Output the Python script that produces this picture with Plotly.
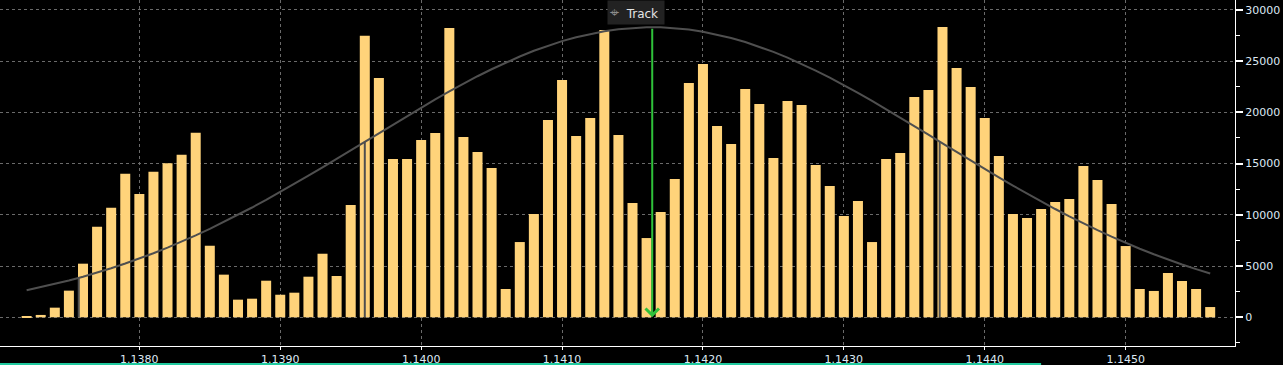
import plotly.graph_objects as go

# ---------------- data ----------------
price_levels = [
    1.1372, 1.1373, 1.1374, 1.1375, 1.1376, 1.1377, 1.1378, 1.1379, 1.1380, 1.1381,
    1.1382, 1.1383, 1.1384, 1.1385, 1.1386, 1.1387, 1.1388, 1.1389, 1.1390, 1.1391,
    1.1392, 1.1393, 1.1394, 1.1395, 1.1396, 1.1397, 1.1398, 1.1399, 1.1400, 1.1401,
    1.1402, 1.1403, 1.1404, 1.1405, 1.1406, 1.1407, 1.1408, 1.1409, 1.1410, 1.1411,
    1.1412, 1.1413, 1.1414, 1.1415, 1.1416, 1.1417, 1.1418, 1.1419, 1.1420, 1.1421,
    1.1422, 1.1423, 1.1424, 1.1425, 1.1426, 1.1427, 1.1428, 1.1429, 1.1430, 1.1431,
    1.1432, 1.1433, 1.1434, 1.1435, 1.1436, 1.1437, 1.1438, 1.1439, 1.1440, 1.1441,
    1.1442, 1.1443, 1.1444, 1.1445, 1.1446, 1.1447, 1.1448, 1.1449, 1.1450, 1.1451,
    1.1452, 1.1453, 1.1454, 1.1455, 1.1456,
]

volumes = [
    100, 230, 940, 2600, 5230, 8840, 10690, 14010, 12030, 14200,
    15020, 15860, 18000, 6980, 4160, 1720, 1815, 3570, 2200, 2400,
    3960, 6200, 4030, 10950, 27470, 23340, 15440, 15440, 17290, 17980,
    28220, 17580, 16120, 14560, 2760, 7340, 10080, 19240, 23140, 17680,
    19440, 28020, 17780, 11150, 7730, 10270, 13490, 22850, 24700, 18660,
    16900, 22270, 20800, 15540, 21100, 20710, 14850, 12810, 9880, 11340,
    7340, 15440, 16020, 21490, 22170, 28310, 24310, 22460, 19440, 15730,
    10080, 9690, 10570, 11250, 11540, 14760, 13390, 11050, 6950, 2760,
    2570, 4320, 3540, 2760, 1000,
]

# fitted distribution curve, read at each price level
fit_curve = [
    2631, 2926, 3244, 3589, 3959, 4359, 4786, 5245, 5733, 6250,
    6800, 7377, 7986, 8625, 9293, 9987, 10709, 11453, 12220, 13007,
    13810, 14630, 15461, 16298, 17139, 17982, 18820, 19649, 20466, 21265,
    22043, 22793, 23514, 24197, 24842, 25442, 25994, 26492, 26936, 27324,
    27649, 27910, 28105, 28233, 28295, 28288, 28213, 28071, 27861, 27587,
    27250, 26854, 26398, 25889, 25326, 24717, 24063, 23373, 22646, 21890,
    21106, 20302, 19482, 18653, 17815, 16972, 16128, 15293, 14464, 13649,
    12848, 12064, 11300, 10562, 9846, 9158, 8496, 7865, 7262, 6687,
    6147, 5635, 5151, 4700, 4276,
]

# deviation markers (price, curve height)
deviation_levels = [1.13757, 1.13960, 1.14368]
deviation_heights = [3830, 17140, 17140]

# tracked level (arrow)
track_level = 1.14164
track_peak = 28300

x_ticks = [1.1380, 1.1390, 1.1400, 1.1410, 1.1420, 1.1430, 1.1440, 1.1450]
y_ticks = [0, 5000, 10000, 15000, 20000, 25000, 30000]

# ---------------- styles ----------------
BAR_COLOR = "#FFD37A"
CURVE_COLOR = "#4f4f4f"
GRID_COLOR = "#6a6a6a"
TEXT_COLOR = "#dde8f3"
FONT = "DejaVu Sans"

fig = go.Figure()

fig.add_trace(go.Bar(
    x=price_levels, y=volumes,
    marker=dict(color=BAR_COLOR, line=dict(width=0)),
    hoverinfo="skip",
))

for lvl, h in zip(deviation_levels, deviation_heights):
    fig.add_trace(go.Scatter(
        x=[lvl, lvl], y=[0, h], mode="lines",
        line=dict(color=CURVE_COLOR, width=2),
        hoverinfo="skip",
    ))

fig.add_trace(go.Scatter(
    x=price_levels, y=fit_curve, mode="lines",
    line=dict(color=CURVE_COLOR, width=2),
    hoverinfo="skip",
))

# green tracking arrow
fig.add_annotation(
    x=track_level, y=0, xref="x", yref="y",
    ax=track_level, ay=track_peak, axref="x", ayref="y",
    text="", showarrow=True,
    arrowhead=4, arrowsize=1.3, arrowwidth=2, arrowcolor="#2fc13a",
)

# "Track" label
fig.add_annotation(
    x=0.5146, y=1.0, xref="paper", yref="paper",
    xanchor="center", yanchor="top",
    text="<span style='font-size:16px;color:#8c8c8c'>⌖</span>  Track ",
    showarrow=False,
    font=dict(family=FONT, size=12, color="#e4e4e4"),
    bgcolor="#222222", borderpad=2,
)

# bottom scroller strip
fig.add_shape(
    type="rect", xref="paper", yref="paper",
    x0=0, x1=0.843, y0=-19 / 346, y1=-17 / 346,
    line=dict(width=0), fillcolor="#1fc99e", layer="above",
)

fig.update_layout(
    width=1283, height=365,
    margin=dict(l=0, r=48, t=0, b=19),
    paper_bgcolor="black", plot_bgcolor="black",
    showlegend=False, bargap=0.29,
    font=dict(family=FONT, size=11, color=TEXT_COLOR),
    hovermode=False,
    xaxis=dict(
        range=[1.137011, 1.145776],
        tickvals=x_ticks, tickformat=".4f",
        showline=True, linecolor="white", linewidth=1,
        ticks="outside", ticklen=3, tickcolor="white", tickwidth=1,
        showgrid=True, gridcolor=GRID_COLOR, griddash="3px,3px", gridwidth=1,
        zeroline=False,
        tickfont=dict(family=FONT, size=11, color=TEXT_COLOR),
    ),
    yaxis=dict(
        side="right",
        range=[-2800, 30950],
        tickvals=y_ticks, tickformat="d",
        showline=True, linecolor="white", linewidth=1,
        ticks="outside", ticklen=7, tickcolor="white", tickwidth=2,
        minor=dict(dtick=2500, tick0=0, ticks="outside", ticklen=4,
                   tickcolor="white", tickwidth=1, showgrid=False),
        showgrid=True, gridcolor=GRID_COLOR, griddash="3px,3px", gridwidth=1,
        zeroline=False,
        tickfont=dict(family=FONT, size=11, color=TEXT_COLOR),
    ),
)

fig.write_html("out.html", config={"displayModeBar": False})
